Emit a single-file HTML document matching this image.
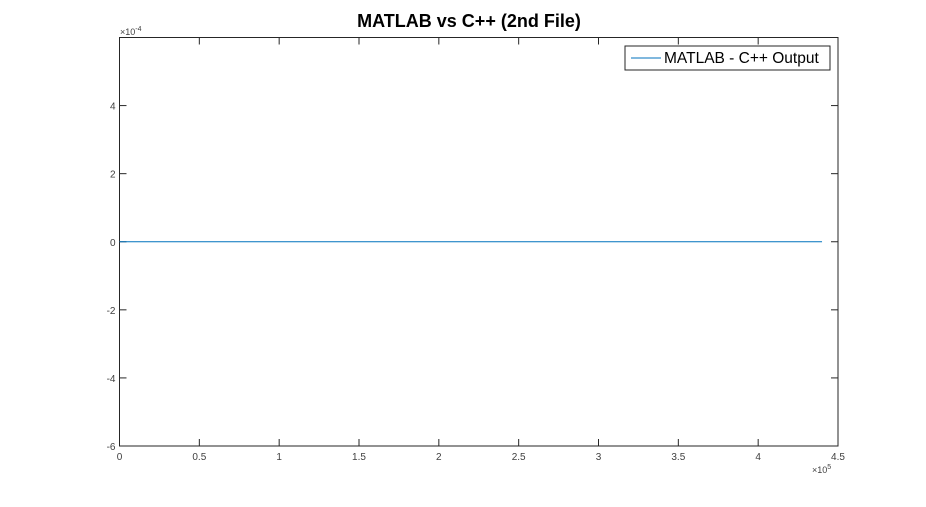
<!DOCTYPE html>
<html><head><meta charset="utf-8"><style>
body{margin:0;background:#fff;width:926px;height:502px;overflow:hidden}
svg text{font-family:"Liberation Sans",sans-serif}
</style></head><body>
<svg id="chart" width="926" height="502">
<text x="469" y="27" text-anchor="middle" font-size="18" font-weight="bold" fill="#000">MATLAB vs C++ (2nd File)</text>
<g id="axes"></g>
</svg>
<script>
const xTicks=[0,0.5,1,1.5,2,2.5,3,3.5,4,4.5];
const yTicks=[-6,-4,-2,0,2,4,6];
const yLabels=["-6","-4","-2","0","2","4",""];
const seriesX=[0,4.4];
const seriesY=[0,0];
const L=119.5,R=838,T=37.5,B=446;
const xs=v=>L+(v-0)/(4.5-0)*(R-L);
const ys=v=>B-(v+6)/12*(B-T);
const g=document.getElementById('axes');
const NS='http://www.w3.org/2000/svg';
function mk(t,a){const e=document.createElementNS(NS,t);for(const k in a)e.setAttribute(k,a[k]);g.appendChild(e);return e;}
const box=mk('rect',{x:L,y:T,width:R-L,height:B-T,fill:'none',stroke:'#262626','stroke-width':1});


xTicks.forEach(v=>{const x=xs(v);
 mk('line',{x1:x,x2:x,y1:B,y2:B-7,stroke:'#262626'});
 mk('line',{x1:x,x2:x,y1:T,y2:T+7,stroke:'#262626'});
 const t=mk('text',{x:x,y:B+14,'text-anchor':'middle','font-size':10,fill:'#404040'});t.textContent=String(v);
 
 });
yTicks.forEach((v,i)=>{const y=ys(v);
 mk('line',{x1:L,x2:L+7,y1:y,y2:y,stroke:'#262626'});
 mk('line',{x1:R,x2:R-7,y1:y,y2:y,stroke:'#262626'});
 const t=mk('text',{x:L-4,y:y+4,'text-anchor':'end','font-size':10,fill:'#404040'});t.textContent=yLabels[i];
 
 });
const ye=mk('text',{x:120,y:35,'font-size':9,fill:'#404040'});ye.innerHTML='×10<tspan dy="-4" font-size="7">-4</tspan>';


const xe=mk('text',{x:812,y:473,'font-size':9,fill:'#404040'});xe.innerHTML='×10<tspan dy="-4" font-size="7">5</tspan>';


const line=mk('polyline',{points:seriesX.map((x,i)=>xs(x)+','+ys(seriesY[i])).join(' '),fill:'none',stroke:'#0072bd','stroke-width':1});


const lg=mk('rect',{x:625,y:46,width:205,height:24,fill:'#fff',stroke:'#262626'});


mk('line',{x1:631,x2:661,y1:58,y2:58,stroke:'#0072bd'});
const lt=mk('text',{x:664,y:63,'font-size':15.5,fill:'#000'});lt.textContent='MATLAB - C++ Output';


</script>
</body></html>
